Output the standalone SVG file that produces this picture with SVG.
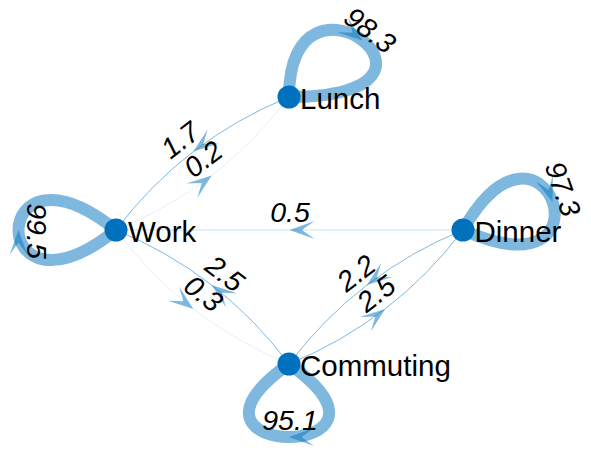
<svg xmlns="http://www.w3.org/2000/svg" xmlns:xlink="http://www.w3.org/1999/xlink" width="591" height="451" viewBox="0 0 591 451">
<style>
.e{fill:none;stroke:#0072BD;stroke-opacity:0.5}
.loop{stroke-width:12}
.w1{stroke-width:1}
.w05{stroke-width:0.6;stroke-opacity:0.35}
.w02{stroke-width:0.5;stroke-opacity:0.22}
.ah{fill:#0072BD;fill-opacity:0.5}
.nd{fill:#0072BD}
.nl{font-family:"Liberation Sans",Arial,sans-serif;font-size:29.5px;fill:#000}
.el{font-family:"Liberation Sans",Arial,sans-serif;font-size:28.5px;font-style:italic;fill:#000;text-anchor:middle}
</style>
<defs>
<path id="arrow" d="M0,0 L-25,-9 L-12.5,0 L-25,9 Z"/>
</defs>
<rect width="591" height="451" fill="#fff"/>
<g id="connectors">
  <path class="e loop" d="M289,97 C289,-54 485,97 289,97"/>
  <path class="e loop" d="M116,230 C-14,334 -14,126 116,230"/>
  <path class="e loop" d="M463,230 C545,85 620,300 463,230"/>
  <path class="e loop" d="M289,364 C427.9,461.3 150.1,461.3 289,364"/>
  <path class="e w1" d="M116,230 Q184.2,139.7 289,97"/>
  <path class="e w02" d="M116,230 Q220.8,187.3 289,97"/>
  <path class="e w1" d="M116,230 Q220.9,273.3 289,364"/>
  <path class="e w02" d="M116,230 Q184.1,320.7 289,364"/>
  <path class="e w1" d="M289,364 Q357.7,273.2 463,230"/>
  <path class="e w1" d="M289,364 Q394.3,320.8 463,230"/>
  <path class="e w05" d="M463,230 L116,230"/>
  <use xlink:href="#arrow" class="ah" transform="translate(193.4,151.6) rotate(142.4)"/>
  <use xlink:href="#arrow" class="ah" transform="translate(211.7,175.4) rotate(-37.6)"/>
  <use xlink:href="#arrow" class="ah" transform="translate(211.7,285.1) rotate(-142.3)"/>
  <use xlink:href="#arrow" class="ah" transform="translate(193.3,308.9) rotate(37.7)"/>
  <use xlink:href="#arrow" class="ah" transform="translate(366.9,285.1) rotate(142.4)"/>
  <use xlink:href="#arrow" class="ah" transform="translate(385.2,308.9) rotate(-37.6)"/>
  <use xlink:href="#arrow" class="ah" transform="translate(289.5,230) rotate(180)"/>
  <use xlink:href="#arrow" class="ah" transform="translate(362.5,40.4) rotate(37.6)"/>
  <use xlink:href="#arrow" class="ah" transform="translate(18.5,230) rotate(-90)"/>
  <use xlink:href="#arrow" class="ah" transform="translate(552.6,201.9) rotate(70.8)"/>
  <use xlink:href="#arrow" class="ah" transform="translate(289,437) rotate(180)"/>
  <text class="el" transform="translate(186.1,147.9) rotate(-37.6)">1.7</text>
  <text class="el" transform="translate(209.1,166.9) rotate(-37.6)">0.2</text>
  <text class="el" transform="translate(218.9,281.4) rotate(37.7)">2.5</text>
  <text class="el" transform="translate(197.4,301.4) rotate(37.7)">0.3</text>
  <text class="el" transform="translate(362.1,280.9) rotate(-37.6)">2.2</text>
  <text class="el" transform="translate(382.1,301.4) rotate(-37.6)">2.5</text>
  <text class="el" transform="translate(290,222)">0.5</text>
  <text class="el" transform="translate(364,38) rotate(37.6)">98.3</text>
  <text class="el" transform="translate(27,231) rotate(90)">99.5</text>
  <text class="el" transform="translate(553.5,192.3) rotate(70.8)">97.3</text>
  <text class="el" transform="translate(290,430)">95.1</text>
</g>
<g id="node-lunch">
  <circle class="nd" cx="289" cy="97" r="11.5"/>
  <text class="nl" x="300" y="108.5">Lunch</text>
</g>
<g id="node-work">
  <circle class="nd" cx="116" cy="230" r="11.5"/>
  <text class="nl" x="128" y="241.5">Work</text>
</g>
<g id="node-dinner">
  <circle class="nd" cx="463" cy="230" r="11.5"/>
  <text class="nl" x="474.5" y="241.5">Dinner</text>
</g>
<g id="node-commuting">
  <circle class="nd" cx="289" cy="364" r="11.5"/>
  <text class="nl" x="300" y="375.5">Commuting</text>
</g>
</svg>
